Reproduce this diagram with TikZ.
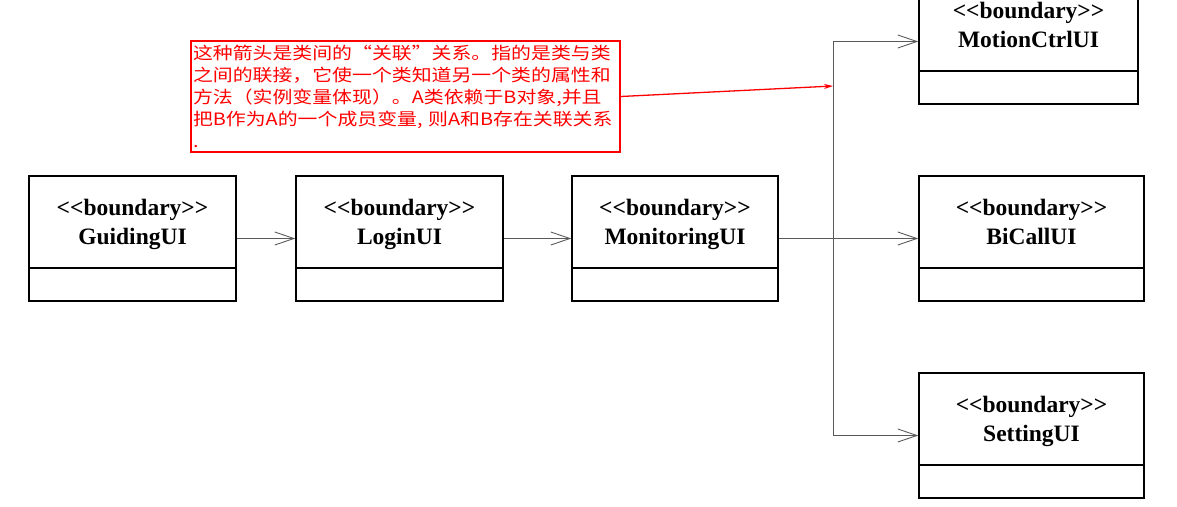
\documentclass[tikz,border=0pt]{standalone}
\usepackage{fontspec}
\setmainfont{Liberation Serif}
\newfontfamily\cjk[FakeStretch=1.17]{Noto Sans CJK SC}
\usetikzlibrary{arrows.meta}

\newcommand\stereo[1]{\strut<\kern0pt<#1>\kern0pt>}

\tikzset{
  uibox/.style={draw=black, line width=1.5, minimum height=125, inner sep=0},
  uititle/.style={align=center, inner sep=0, font=\fontsize{23.5}{29}\selectfont\bfseries},
  sepline/.style={draw=black, line width=1.5},
  assoc/.style={draw=black!65, line width=0.9, -{Straight Barb[length=19,width=13]}},
  note/.style={draw=red, line width=1.3, text=red, align=left, text width=425,
    inner xsep=2, inner ysep=0, minimum height=111, font=\cjk\fontsize{17}{22}\selectfont}
}

\begin{document}
\begin{tikzpicture}[x=1pt,y=-1pt]
  \useasboundingbox (0,0) rectangle (1177,506);

  % boundary classes
  \node[uibox, minimum width=207] (gui) at (132.5,238.5) {};
  \node[uibox, minimum width=207] (login) at (399.5,238.5) {};
  \node[uibox, minimum width=206] (mon) at (675,238.5) {};
  \node[uibox, minimum width=225] (bic) at (1031.5,238.5) {};
  \node[uibox, minimum width=219] (mot) at (1028.5,41.5) {};
  \node[uibox, minimum width=225] (set) at (1031.5,435.5) {};

  \node[uititle] (gui-t) at ([yshift=14]gui.center) {\stereo{boundary}\\GuidingUI\strut};
  \node[uititle] (login-t) at ([yshift=14]login.center) {\stereo{boundary}\\LoginUI\strut};
  \node[uititle] (mon-t) at ([yshift=14]mon.center) {\stereo{boundary}\\MonitoringUI\strut};
  \node[uititle] (bic-t) at ([yshift=14]bic.center) {\stereo{boundary}\\BiCallUI\strut};
  \node[uititle] (mot-t) at ([yshift=14]mot.center) {\stereo{boundary}\\MotionCtrlUI\strut};
  \node[uititle] (set-t) at ([yshift=14]set.center) {\stereo{boundary}\\SettingUI\strut};

  \draw[sepline] ([yshift=34]gui.south west) -- ([yshift=34]gui.south east);
  \draw[sepline] ([yshift=34]login.south west) -- ([yshift=34]login.south east);
  \draw[sepline] ([yshift=34]mon.south west) -- ([yshift=34]mon.south east);
  \draw[sepline] ([yshift=34]bic.south west) -- ([yshift=34]bic.south east);
  \draw[sepline] ([yshift=34]mot.south west) -- ([yshift=34]mot.south east);
  \draw[sepline] ([yshift=34]set.south west) -- ([yshift=34]set.south east);

  % associations
  \coordinate (junc) at (833,238.5);
  \draw[assoc] (gui) -- (login);
  \draw[assoc] (login) -- (mon);
  \draw[assoc] (mon) -- (bic);
  \draw[assoc] (mon.east) -- (junc) |- (mot.west);
  \draw[assoc] (mon.east) -- (junc) |- (set.west);

  % note
  \node[note] (note) at (405.5,96.5) {这种箭头是类间的“关联”关系。指的是类与类\\
    之间的联接，它使一个类知道另一个类的属性和\\
    方法（实例变量体现）。A类依赖于B对象,并且\\
    把B作为A的一个成员变量, 则A和B存在关联关系\\
    .};
  \coordinate (tip) at (833,86);
  \draw[red, line width=1.3, -{Stealth[length=9,width=5]}] (note.east) -- (tip);

\end{tikzpicture}
\end{document}
